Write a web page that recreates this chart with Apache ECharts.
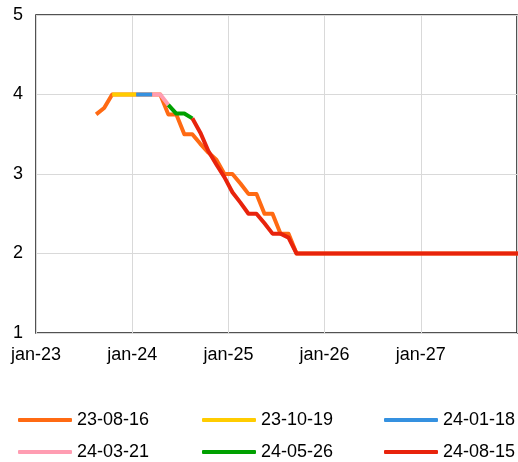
<!DOCTYPE html>
<html>
<head>
<meta charset="utf-8">
<script src="https://cdn.jsdelivr.net/npm/echarts@6/dist/echarts.min.js"></script>
<style>
  html, body { margin: 0; padding: 0; background: #fff; }
  #chart { width: 518px; height: 462px; }
</style>
</head>
<body>
<div id="chart"></div>
<script>
// Monthly observations, Aug 2023 .. Jan 2028 (one value per month, null = no forecast yet)
const months = [
  '2023-08','2023-09','2023-10','2023-11','2023-12',
  '2024-01','2024-02','2024-03','2024-04','2024-05','2024-06','2024-07','2024-08','2024-09','2024-10','2024-11','2024-12',
  '2025-01','2025-02','2025-03','2025-04','2025-05','2025-06','2025-07','2025-08','2025-09','2025-10','2025-11','2025-12',
  '2026-01','2026-02','2026-03','2026-04','2026-05','2026-06','2026-07','2026-08','2026-09','2026-10','2026-11','2026-12',
  '2027-01','2027-02','2027-03','2027-04','2027-05','2027-06','2027-07','2027-08','2027-09','2027-10','2027-11','2027-12',
  '2028-01'
];

const seriesNames = ['23-08-16', '23-10-19', '24-01-18', '24-03-21', '24-05-26', '24-08-15'];
const seriesColors = ['#ff6a13', '#ffcc00', '#3591e0', '#ff9db2', '#00a000', '#e8230c'];

const f230816 = [
  3.75, 3.83, 4.00, 4.00, 4.00,
  4.00, 4.00, 4.00, 4.00, 3.75, 3.75, 3.50, 3.50, 3.38, 3.27, 3.18, 3.00,
  3.00, 2.88, 2.75, 2.75, 2.50, 2.50, 2.25, 2.25, 2.00, 2.00, 2.00, 2.00,
  2.00, 2.00, 2.00, 2.00, 2.00, 2.00, 2.00, 2.00, 2.00, 2.00, 2.00, 2.00,
  2.00, 2.00, 2.00, 2.00, 2.00, 2.00, 2.00, 2.00, 2.00, 2.00, 2.00, 2.00,
  2.00
];
const f231019 = [null, null, 4.00, 4.00, 4.00, 4.00];
const f240118 = [null, null, null, null, null, 4.00, 4.00, 4.00];
const f240321 = [null, null, null, null, null, null, null, 4.00, 4.00, 3.87];
const f240526 = [null, null, null, null, null, null, null, null, null, 3.87, 3.76, 3.76, 3.70];
const f240815 = [
  null, null, null, null, null,
  null, null, null, null, null, null, null, 3.70, 3.52, 3.29, 3.12, 2.96,
  2.77, 2.64, 2.50, 2.50, 2.38, 2.25, 2.25, 2.20, 2.00, 2.00, 2.00, 2.00,
  2.00, 2.00, 2.00, 2.00, 2.00, 2.00, 2.00, 2.00, 2.00, 2.00, 2.00, 2.00,
  2.00, 2.00, 2.00, 2.00, 2.00, 2.00, 2.00, 2.00, 2.00, 2.00, 2.00, 2.00,
  2.00
];
const forecasts = [f230816, f231019, f240118, f240321, f240526, f240815];

const xTickLabels = ['jan-23', 'jan-24', 'jan-25', 'jan-26', 'jan-27', 'jan-28'];
const yTickLabels = ['1', '2', '3', '4', '5'];

// month position on the x scale: months since Jan 2023, placed mid-month
function monthPos(ym) {
  const [y, m] = ym.split('-').map(Number);
  return (y - 2023) * 12 + (m - 1) + 0.5;
}

const FONT = '"Liberation Sans", Arial, sans-serif';

const series = forecasts.map((vals, i) => ({
  name: seriesNames[i],
  type: 'line',
  showSymbol: false,
  symbol: 'none',
  connectNulls: false,
  animation: false,
  color: seriesColors[i],
  lineStyle: { width: 4, color: seriesColors[i], join: 'round', cap: 'butt' },
  data: vals.map((v, j) => [monthPos(months[j]), v]).filter(p => p[1] !== null)
}));

const legendCols = [18, 202, 384];
const legendRows = [410, 442];
const legends = seriesNames.map((name, i) => ({
  data: [name],
  left: legendCols[i % 3],
  top: legendRows[Math.floor(i / 3)],
  padding: 0,
  icon: 'roundRect',
  itemWidth: 54,
  itemHeight: 4,
  itemGap: 0,
  selectedMode: false,
  textStyle: { fontFamily: FONT, fontSize: 18, color: '#000', lineHeight: 20, padding: [0, 0, 0, 0] }
}));

const chart = echarts.init(document.getElementById('chart'), null, { renderer: 'canvas' });
chart.setOption({
  animation: false,
  backgroundColor: '#fff',
  grid: {
    left: 36, top: 15, right: 1, bottom: 129,
    show: true, borderColor: '#1a1a1a', borderWidth: 1.5, backgroundColor: 'transparent'
  },
  xAxis: {
    type: 'value',
    min: 0, max: 60, interval: 12,
    axisLine: { show: false },
    axisTick: { show: false },
    splitLine: { show: true, lineStyle: { color: '#d9d9d9', width: 1 } },
    axisLabel: {
      showMaxLabel: false,
      margin: 13,
      fontFamily: FONT, fontSize: 18, color: '#000',
      formatter: v => xTickLabels[Math.round(v / 12)]
    }
  },
  yAxis: {
    type: 'value',
    min: 1, max: 5, interval: 1,
    axisLine: { show: false },
    axisTick: { show: false },
    splitLine: { show: true, lineStyle: { color: '#d9d9d9', width: 1 } },
    axisLabel: {
      margin: 13,
      padding: [5, 0, 0, 0],
      fontFamily: FONT, fontSize: 18, color: '#000',
      formatter: v => yTickLabels[Math.round(v - 1)]
    }
  },
  legend: legends,
  series: series
});
</script>
</body>
</html>
